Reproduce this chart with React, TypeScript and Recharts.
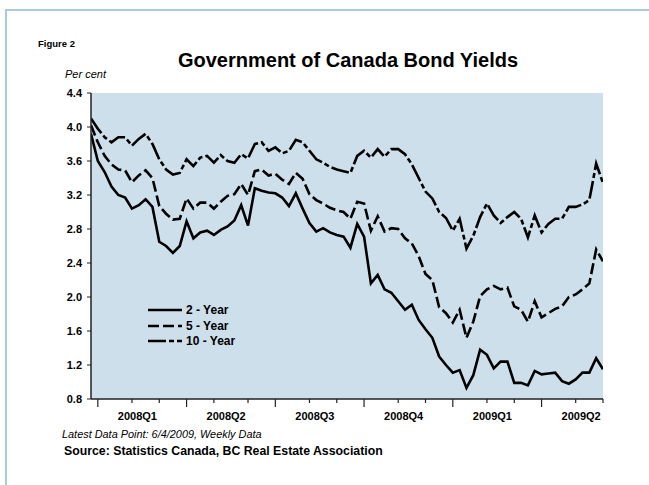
import React from "react";
import {
  LineChart, Line, XAxis, YAxis, CartesianGrid,
} from "recharts";

// ── Data (weekly, first point 27 Dec 2007, last 4 Jun 2009) ──────────
const YIELD_2Y = [
  3.92, 3.60, 3.47, 3.30, 3.20, 3.17, 3.04, 3.08, 3.15, 3.06,
  2.65, 2.60, 2.52, 2.60, 2.89, 2.69, 2.76, 2.78, 2.73, 2.79,
  2.83, 2.90, 3.08, 2.84, 3.28, 3.25, 3.23, 3.22, 3.17, 3.07,
  3.22, 3.04, 2.87, 2.77, 2.81, 2.76, 2.73, 2.71, 2.58, 2.86,
  2.71, 2.16, 2.26, 2.09, 2.05, 1.95, 1.85, 1.91, 1.73, 1.62,
  1.52, 1.30, 1.20, 1.11, 1.14, 0.93, 1.08, 1.38, 1.32, 1.16,
  1.24, 1.24, 0.99, 0.99, 0.96, 1.13, 1.09, 1.10, 1.11, 1.01,
  0.98, 1.03, 1.11, 1.11, 1.28, 1.15,
];
const YIELD_5Y = [
  4.02, 3.82, 3.66, 3.56, 3.50, 3.49, 3.35, 3.43, 3.49, 3.40,
  3.07, 2.98, 2.91, 2.92, 3.16, 3.04, 3.11, 3.11, 3.04, 3.12,
  3.19, 3.21, 3.33, 3.20, 3.48, 3.50, 3.43, 3.45, 3.38, 3.33,
  3.46, 3.39, 3.21, 3.14, 3.10, 3.05, 3.02, 3.00, 2.92, 3.12,
  3.10, 2.78, 2.95, 2.77, 2.81, 2.80, 2.69, 2.63, 2.48, 2.27,
  2.20, 1.88, 1.81, 1.70, 1.85, 1.52, 1.71, 2.01, 2.09, 2.13,
  2.09, 2.11, 1.89, 1.85, 1.71, 1.95, 1.76, 1.81, 1.86, 1.89,
  2.00, 2.03, 2.09, 2.16, 2.56, 2.42,
];
const YIELD_10Y = [
  4.10, 3.98, 3.88, 3.82, 3.88, 3.88, 3.78, 3.86, 3.92, 3.80,
  3.62, 3.50, 3.44, 3.46, 3.62, 3.54, 3.64, 3.66, 3.58, 3.67,
  3.60, 3.58, 3.68, 3.63, 3.80, 3.82, 3.72, 3.76, 3.69, 3.72,
  3.85, 3.82, 3.72, 3.62, 3.58, 3.53, 3.50, 3.48, 3.46, 3.66,
  3.72, 3.64, 3.74, 3.65, 3.74, 3.74, 3.68, 3.56, 3.40, 3.24,
  3.16, 3.00, 2.93, 2.78, 2.92, 2.57, 2.72, 2.94, 3.10, 2.96,
  2.87, 2.94, 3.00, 2.92, 2.70, 2.96, 2.76, 2.86, 2.92, 2.92,
  3.06, 3.06, 3.09, 3.14, 3.57, 3.34,
];

// week index of first observation in each month (Jan 2008 .. Jun 2009)
const MONTH_TICKS = [1, 6, 10, 14, 18, 23, 27, 32, 36, 40, 45, 49, 53, 58, 62, 66, 71, 75];
const QUARTER_STARTS = [1, 14, 27, 40, 53, 66];
const QUARTER_LABELS = ["2008Q1", "2008Q2", "2008Q3", "2008Q4", "2009Q1", "2009Q2"];
const Y_TICKS = [0.8, 1.2, 1.6, 2.0, 2.4, 2.8, 3.2, 3.6, 4.0, 4.4];

const SERIES = [
  { key: "y2", name: "2 - Year", dash: undefined as string | undefined },
  { key: "y5", name: "5 - Year", dash: "11 4" },
  { key: "y10", name: "10 - Year", dash: "18 3 5 3" },
];

const rows = YIELD_2Y.map((v, i) => ({ week: i, y2: v, y5: YIELD_5Y[i], y10: YIELD_10Y[i] }));
const labelPos = QUARTER_STARTS.map((s) => s + 5.8);

const ARIAL = "Arial, 'Liberation Sans', Helvetica, sans-serif";
const PLOT_BG = "#cddfea";
const FRAME = "#222";

// ── X tick: month marks, longer quarter marks, quarter labels ────────
function QuarterTick(props: any) {
  const { x, y, payload } = props;
  const v = payload.value;
  const li = labelPos.findIndex((p) => Math.abs(p - v) < 1e-6);
  if (li >= 0) {
    return (
      <text x={x} y={y + 21} textAnchor="middle" fontSize={11} fontWeight="bold" fill="#000" fontFamily={ARIAL}>
        {QUARTER_LABELS[li]}
      </text>
    );
  }
  const major = QUARTER_STARTS.includes(v);
  return <line x1={x} y1={y} x2={x} y2={y + (major ? 8 : 4)} stroke={FRAME} strokeWidth={1.2} />;
}

export default function App() {
  return (
    <div style={{ position: "absolute", left: 0, top: 0, width: 649, height: 485, background: "#fff", overflow: "hidden", fontFamily: ARIAL }}>
      <div style={{ position: "absolute", left: 5, top: 9, width: 660, height: 490, borderTop: "2px solid #a9c9de", borderLeft: "2px solid #a9c9de" }} />

      <div style={{ position: "absolute", left: 0, top: 0 }}>
        <LineChart width={649} height={485} data={rows} margin={{ top: 93, right: 46, bottom: 56, left: 41 }}>
          <CartesianGrid horizontal={false} vertical={false} fill={PLOT_BG} fillOpacity={1} />
          <XAxis
            dataKey="week" type="number" domain={[0, 75]} allowDataOverflow
            ticks={[...MONTH_TICKS, ...labelPos]} interval={0}
            tick={<QuarterTick />} tickLine={false} tickSize={0} tickMargin={0}
            axisLine={{ stroke: FRAME, strokeWidth: 1.5 }} height={30}
          />
          <XAxis xAxisId="top" orientation="top" dataKey="week" type="number" domain={[0, 75]}
            tick={false} tickLine={false} axisLine={{ stroke: FRAME, strokeWidth: 1.5 }} height={0} />
          <YAxis
            domain={[0.8, 4.4]} ticks={Y_TICKS} interval={0} allowDataOverflow
            tickFormatter={(v: number) => v.toFixed(1)}
            tick={{ fontSize: 11, fontWeight: "bold", fill: "#000", fontFamily: ARIAL }}
            tickSize={4} tickMargin={5} tickLine={{ stroke: FRAME }}
            axisLine={{ stroke: FRAME, strokeWidth: 1.5 }} width={50}
          />
          <YAxis yAxisId="right" orientation="right" domain={[0.8, 4.4]}
            tick={false} tickLine={false} axisLine={{ stroke: FRAME, strokeWidth: 1.5 }} width={0} />
          {SERIES.map((s) => (
            <Line key={s.key} type="linear" dataKey={s.key} name={s.name} stroke="#000" strokeWidth={2.6}
              strokeDasharray={s.dash} dot={false} activeDot={false} isAnimationActive={false} />
          ))}
        </LineChart>
      </div>

      {/* titles */}
      <div style={{ position: "absolute", left: 38, top: 38, fontSize: 9.5, fontWeight: "bold", whiteSpace: "nowrap" }}>Figure 2</div>
      <div style={{ position: "absolute", left: 348, top: 50, transform: "translateX(-50%)", fontSize: 20, fontWeight: "bold", whiteSpace: "nowrap", lineHeight: 1 }}>
        Government of Canada Bond Yields
      </div>
      <div style={{ position: "absolute", left: 65, top: 69, fontSize: 11, fontStyle: "italic", whiteSpace: "nowrap", lineHeight: 1 }}>Per cent</div>

      {/* legend */}
      <div style={{ position: "absolute", left: 148, top: 302 }}>
        {SERIES.map((s) => (
          <div key={s.key} style={{ display: "flex", alignItems: "center", height: 15.7 }}>
            <svg width={36} height={6}>
              <line x1={0} y1={3} x2={34} y2={3} stroke="#000" strokeWidth={2.6} strokeDasharray={s.dash} />
            </svg>
            <span style={{ fontSize: 12, fontWeight: "bold", lineHeight: 1, marginLeft: 2, whiteSpace: "nowrap" }}>{s.name}</span>
          </div>
        ))}
      </div>

      {/* notes */}
      <div style={{ position: "absolute", left: 62, top: 429, fontSize: 10.9, fontStyle: "italic", whiteSpace: "nowrap", lineHeight: 1 }}>
        Latest Data Point: 6/4/2009, Weekly Data
      </div>
      <div style={{ position: "absolute", left: 64, top: 445, fontSize: 12.3, fontWeight: "bold", whiteSpace: "nowrap", lineHeight: 1 }}>
        Source: Statistics Canada, BC Real Estate Association
      </div>
    </div>
  );
}
